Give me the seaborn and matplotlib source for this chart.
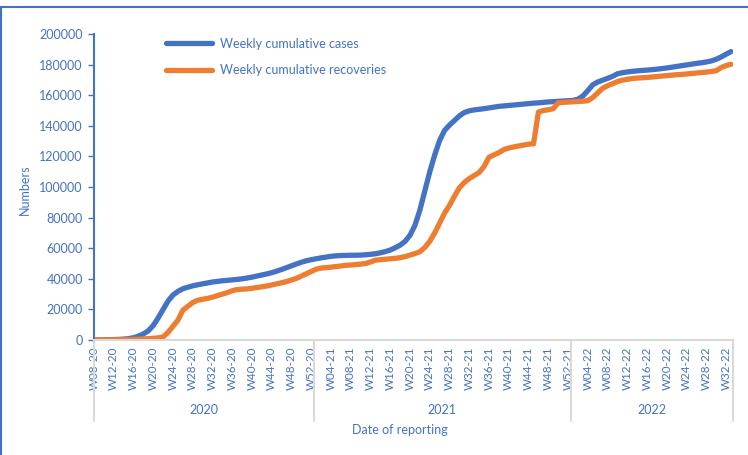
import matplotlib
matplotlib.use("Agg")
from matplotlib import pyplot as plt
from matplotlib.lines import Line2D
import matplotlib.transforms as mtransforms
import pandas as pd
import seaborn as sns

# week labels W08-20 .. W33-22
weeks = ['W%02d-20' % w for w in range(8, 53)] \
    + ['W%02d-21' % w for w in range(1, 53)] \
    + ['W%02d-22' % w for w in range(1, 34)]
years = ['2020', '2021', '2022']

cases = [
    0, 50, 100, 200, 300, 400, 600, 900, 1500, 2500,
    4000, 6000, 9500, 14500, 20000, 25500, 29400, 31800, 33500, 34500,
    35400, 36100, 36700, 37300, 37900, 38300, 38700, 39000, 39300, 39600,
    40000, 40500, 41100, 41800, 42500, 43200, 44000, 45000, 46100, 47300,
    48500, 49700, 50800, 51800, 52500, 53100, 53700, 54200, 54700, 55000,
    55200, 55300, 55400, 55400, 55500, 55700, 56000, 56400, 57000, 57800,
    58800, 60300, 62000, 64500, 68500, 75000, 85000, 97500, 110000, 121000,
    130500, 137000, 140500, 143500, 146500, 148700, 149800, 150400, 150800, 151200,
    151700, 152200, 152700, 153000, 153300, 153600, 153900, 154200, 154500, 154800,
    155000, 155300, 155600, 155800, 156000, 156200, 156400, 156600, 157400, 159500,
    163000, 166800, 168600, 169800, 171000, 172300, 174000, 174700, 175200, 175600,
    175900, 176200, 176400, 176700, 177000, 177400, 177800, 178300, 178800, 179300,
    179800, 180300, 180800, 181200, 181700, 182400, 183500, 185000, 186800, 188500,
]

recoveries = [
    0, 0, 0, 50, 100, 150, 200, 300, 400, 500,
    700, 900, 1100, 1400, 2000, 5000, 9000, 13000, 19500, 22000,
    24500, 26000, 26600, 27200, 28000, 29000, 30000, 31000, 32200, 33000,
    33200, 33400, 33800, 34300, 34800, 35300, 36000, 36700, 37400, 38200,
    39200, 40300, 41800, 43300, 44800, 46300, 47000, 47300, 47600, 48000,
    48400, 48800, 49000, 49300, 49600, 50000, 51000, 52200, 52500, 52800,
    53100, 53400, 53800, 54500, 55500, 56500, 57700, 60500, 64500, 70000,
    76500, 83000, 88000, 94000, 99500, 103000, 105500, 107500, 109500, 113500,
    119500, 121000, 122500, 124500, 125500, 126200, 126800, 127400, 128000, 128200,
    149000, 150000, 150500, 151200, 155000, 155300, 155500, 155700, 155900, 156100,
    156400, 158500, 161500, 164500, 166200, 167500, 168900, 169800, 170400, 170900,
    171200, 171400, 171600, 171900, 172200, 172500, 172800, 173100, 173400, 173600,
    173900, 174200, 174500, 174800, 175100, 175500, 176000, 178000, 179400, 180200,
]

blue = '#4472C4'
orange = '#ED7D31'
txt = '#4472C4'

df = pd.DataFrame({
    'idx': list(range(len(weeks))) * 2,
    'value': cases + recoveries,
    'series': ['Weekly cumulative cases'] * len(weeks) + ['Weekly cumulative recoveries'] * len(weeks),
})

sns.set_style('white')
plt.rcParams['font.family'] = ['Lato', 'DejaVu Sans']

fig = plt.figure(figsize=(7.48, 4.55), dpi=100)
ax = fig.add_axes([94 / 748, 1 - 340 / 455, (733 - 94) / 748, (340 - 34) / 455])

sns.lineplot(data=df, x='idx', y='value', hue='series',
             palette=[blue, orange], linewidth=3.8, ax=ax)

ax.set_xlim(0, 129.4)
ax.set_ylim(0, 200000)
ax.set_yticks(range(0, 200001, 20000))
ax.set_yticklabels([str(v) for v in range(0, 200001, 20000)])
ax.set_xticks(range(0, len(weeks), 4))
ax.set_xticklabels([weeks[i] for i in range(0, len(weeks), 4)], rotation=90)
ax.tick_params(axis='x', length=0, pad=5, labelsize=8.4, labelcolor=txt)
ax.tick_params(axis='y', length=4, width=1, color=blue, direction='out',
               pad=4, labelsize=9, labelcolor=txt, left=True)
ax.set_xlabel('')
ax.set_ylabel('')

for s in ['top', 'right']:
    ax.spines[s].set_visible(False)
ax.spines['left'].set_color(blue)
ax.spines['left'].set_linewidth(1.5)
ax.spines['bottom'].set_color('#d9d9d9')
ax.spines['bottom'].set_linewidth(1.5)

# multi-level category separators and year labels
trans = mtransforms.blended_transform_factory(ax.transData, ax.transAxes)
for xs in [0, 44.5, 96.5, 129.4]:
    ax.add_line(Line2D([xs, xs], [0, -0.265], transform=trans, color='#d9d9d9',
                       linewidth=1.5, clip_on=False))
for label, xc in zip(years, [22.25, 70.5, 112.95]):
    ax.text(xc, -0.228, label, transform=trans, ha='center', va='center',
            fontsize=9, color=txt)

fig.text(400 / 748, 1 - 430 / 455, 'Date of reporting', ha='center', va='center',
         fontsize=9, color=txt)
fig.text(25 / 748, 1 - 190 / 455, 'Numbers', ha='center', va='center',
         rotation=90, fontsize=9, color=txt)

leg = ax.legend(loc='upper left', bbox_to_anchor=(0.095, 1.025), frameon=False,
                handlelength=3.7, handletextpad=0.6, fontsize=9, labelspacing=1.15)
for t in leg.get_texts():
    t.set_color(txt)
for h in leg.get_lines():
    h.set_linewidth(3.8)

# chart border (left and top edges visible)
fig.add_artist(Line2D([0.002, 0.002], [0, 1 - 7 / 455], color=blue, linewidth=1.5))
fig.add_artist(Line2D([0.002, 1], [1 - 7 / 455, 1 - 7 / 455], color=blue, linewidth=1.5))

fig.savefig('out.png', dpi=100)
